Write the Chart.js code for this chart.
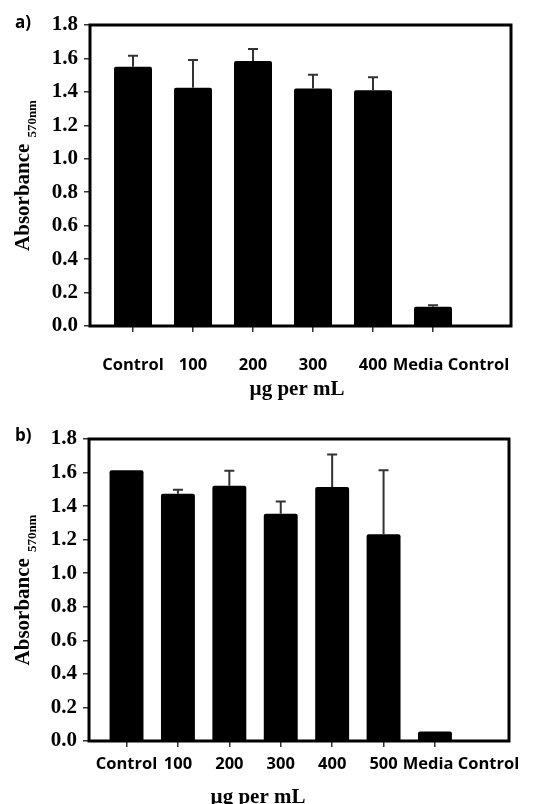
<!DOCTYPE html>
<html>
<head>
<meta charset="utf-8">
<script src="https://cdn.jsdelivr.net/npm/chart.js@4.4.0/dist/chart.umd.min.js"></script>
<style>
body { margin: 0; background: #fff; }
canvas { position: absolute; left: 0; }
</style>
</head>
<body>
<canvas id="graficoA" width="555" height="400" style="top:0"></canvas>
<canvas id="graficoB" width="555" height="404" style="top:400px"></canvas>
<script>
// a) datos
var catsA = ['Control', '100', '200', '300', '400', 'Media Control'];
var mediaA = [1.55, 1.425, 1.585, 1.42, 1.41, 0.115];
var errA = [0.066, 0.166, 0.072, 0.082, 0.078, 0.009];

// b) datos
var catsB = ['Control', '100', '200', '300', '400', '500', 'Media Control'];
var mediaB = [1.613, 1.474, 1.521, 1.354, 1.514, 1.233, 0.056];
var errB = [0, 0.024, 0.09, 0.074, 0.194, 0.38, 0];

var yTicks = [0, 0.2, 0.4, 0.6, 0.8, 1.0, 1.2, 1.4, 1.6, 1.8];
var tituloX = 'µg per mL';
var tituloY = 'Absorbance';
var subY = '570nm';

var sansBold = 'bold 16.5px "Open Sans"';
var serif = '"Liberation Serif", "Times New Roman", serif';

var extras = {
    id: 'extras',
    afterDatasetsDraw: function (chart, args, o) {
        var ctx = chart.ctx;
        var x = chart.scales.x, y = chart.scales.y, a = chart.chartArea;
        var medias = chart.data.datasets[0].data;
        ctx.save();

        // barras de error
        ctx.strokeStyle = '#333';
        ctx.lineWidth = 2;
        o.err.forEach(function (e, i) {
            if (!e) return;
            var px = x.getPixelForValue(i);
            var y0 = y.getPixelForValue(medias[i].y);
            var y1 = y.getPixelForValue(medias[i].y + e);
            ctx.beginPath();
            ctx.moveTo(px, y0);
            ctx.lineTo(px, y1);
            ctx.moveTo(px - 5, y1);
            ctx.lineTo(px + 5, y1);
            ctx.stroke();
        });

        // marco
        ctx.strokeStyle = '#000';
        ctx.lineWidth = 3;
        ctx.strokeRect(a.left, a.top, a.right - a.left, a.bottom - a.top);

        // etiquetas x
        ctx.fillStyle = '#000';
        ctx.font = sansBold;
        ctx.textAlign = 'center';
        ctx.textBaseline = 'alphabetic';
        o.cats.forEach(function (c, i) {
            var px = x.getPixelForValue(i);
            if (i == o.cats.length - 1) px += o.despUltimo;
            ctx.fillText(c, px, o.labelY);
        });

        // titulo x
        ctx.font = 'bold 21px ' + serif;
        ctx.fillText(tituloX, o.tituloX, o.tituloXY);

        // titulo y con subindice
        ctx.translate(0, (a.top + a.bottom) / 2);
        ctx.rotate(-Math.PI / 2);
        ctx.font = 'bold 21px ' + serif;
        var w1 = ctx.measureText(tituloY).width;
        ctx.font = 'bold 13px ' + serif;
        var w2 = ctx.measureText(subY).width;
        var u = -(w1 + 6 + w2) / 2;
        ctx.textAlign = 'left';
        ctx.font = 'bold 21px ' + serif;
        ctx.fillText(tituloY, u, 29);
        ctx.font = 'bold 13px ' + serif;
        ctx.fillText(subY, u + w1 + 6, 36);
        ctx.restore();

        // a) / b)
        ctx.save();
        ctx.fillStyle = '#000';
        ctx.font = 'bold 17px "Open Sans"';
        ctx.fillText(o.panel, 15, o.panelY);
        ctx.restore();
    }
};

function grafico(id, cats, media, err, cfg) {
    var ctx = document.getElementById(id).getContext('2d');
    return new Chart(ctx, {
        type: 'bar',
        data: {
            datasets: [{
                data: media.map(function (v, i) { return { x: i, y: v }; }),
                backgroundColor: '#000',
                borderWidth: 0,
                borderRadius: 2,
                categoryPercentage: 1,
                barPercentage: cfg.barPct
            }]
        },
        plugins: [extras],
        options: {
            responsive: false,
            animation: false,
            devicePixelRatio: 1,
            layout: { padding: { left: 0, top: cfg.top, right: cfg.right, bottom: 0 } },
            plugins: {
                legend: { display: false },
                tooltip: { enabled: false },
                extras: {
                    err: err,
                    cats: cats,
                    labelY: cfg.labelY,
                    despUltimo: cfg.despUltimo,
                    tituloX: cfg.tituloX,
                    tituloXY: cfg.tituloXY,
                    panel: cfg.panel,
                    panelY: cfg.panelY
                }
            },
            scales: {
                x: {
                    type: 'linear',
                    offset: false,
                    min: cfg.xmin,
                    max: cfg.xmax,
                    afterBuildTicks: function (s) {
                        s.ticks = cats.map(function (c, i) { return { value: i }; });
                    },
                    afterFit: function (s) { s.height = cfg.altoX; },
                    ticks: { display: false },
                    border: { display: false },
                    grid: { offset: false, drawOnChartArea: false, drawTicks: true, tickLength: 6, color: '#333', lineWidth: 1.5 }
                },
                y: {
                    min: 0,
                    max: 1.8,
                    afterBuildTicks: function (s) {
                        s.ticks = yTicks.map(function (v) { return { value: v }; });
                    },
                    afterFit: function (s) { s.width = cfg.anchoY; },
                    ticks: {
                        padding: 6,
                        color: '#000',
                        font: { family: serif, size: 21, weight: 'bold' },
                        callback: function (v) { return Number(v).toFixed(1); }
                    },
                    border: { display: false },
                    grid: { drawOnChartArea: false, drawTicks: true, tickLength: 6, color: '#333', lineWidth: 1.5 }
                }
            }
        }
    });
}

grafico('graficoA', catsA, mediaA, errA, {
    barPct: 0.633, top: 25, right: 44, anchoY: 90, altoX: 74,
    xmin: -0.717, xmax: 6.3,
    labelY: 370, despUltimo: 18, tituloX: 297, tituloXY: 395,
    panel: 'a)', panelY: 28
});

grafico('graficoB', catsB, mediaB, errB, {
    barPct: 0.66, top: 39, right: 46, anchoY: 89, altoX: 63,
    xmin: -0.73, xmax: 7.44,
    labelY: 369, despUltimo: 26, tituloX: 258, tituloXY: 403,
    panel: 'b)', panelY: 41
});
</script>
</body>
</html>
